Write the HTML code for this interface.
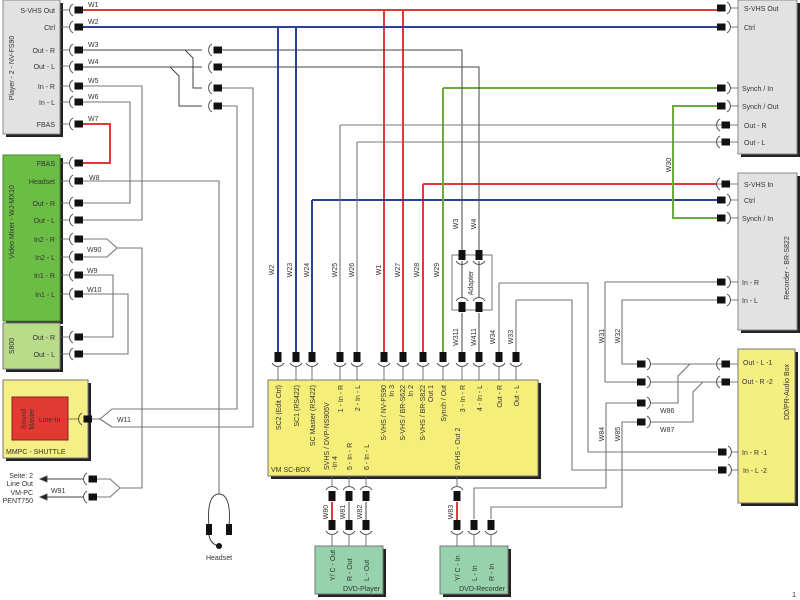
<!DOCTYPE html>
<html><head><meta charset="utf-8"><style>
html,body{margin:0;padding:0;background:#fff;}
svg{display:block;}
text{font-family:"Liberation Sans",sans-serif;font-size:7px;fill:#333;}
</style></head><body>
<svg width="800" height="600" viewBox="0 0 800 600" xmlns="http://www.w3.org/2000/svg">
<defs>
<g id="L"><path d="M3,-6 A7,7 0 0,0 3,6" fill="none" stroke="#444" stroke-width="0.9"/><rect x="4.5" y="-3.5" width="8.5" height="7" fill="#111"/></g>
<g id="R"><path d="M-3,-6 A7,7 0 0,1 -3,6" fill="none" stroke="#444" stroke-width="0.9"/><rect x="-13" y="-3.5" width="8.5" height="7" fill="#111"/></g>
<g id="D"><path d="M-6,0 A7,7 0 0,0 6,0" fill="none" stroke="#444" stroke-width="0.9"/><rect x="-3.5" y="-11" width="7" height="10" fill="#111"/></g>
<g id="U"><path d="M-6,0 A7,7 0 0,1 6,0" fill="none" stroke="#444" stroke-width="0.9"/><rect x="-3.5" y="1" width="7" height="10" fill="#111"/></g>
</defs>

<!-- ===== Boxes ===== -->
<rect x="6" y="3" width="57" height="134" fill="#222"/>
<rect x="3" y="0" width="57" height="134" fill="#e2e2e2" stroke="#888"/>
<rect x="6" y="158" width="57" height="166" fill="#222"/>
<rect x="3" y="155" width="57" height="166" fill="#6cbd45" stroke="#4a8a30"/>
<rect x="6" y="326" width="57" height="46" fill="#222"/>
<rect x="3" y="323" width="57" height="46" fill="#b9dc8b" stroke="#777"/>
<rect x="6" y="383" width="85" height="78" fill="#222"/>
<rect x="3" y="380" width="85" height="78" fill="#f5ef85" stroke="#777"/>
<rect x="12" y="397" width="56" height="43" fill="#e23a32" stroke="#8a2020"/>
<rect x="271" y="383" width="270" height="96" fill="#222"/>
<rect x="268" y="380" width="270" height="96" fill="#f5ef7a" stroke="#777"/>
<rect x="741" y="3" width="59" height="154" fill="#222"/>
<rect x="738" y="0" width="59" height="154" fill="#e2e2e2" stroke="#888"/>
<rect x="741" y="176" width="59" height="157" fill="#222"/>
<rect x="738" y="173" width="59" height="157" fill="#e2e2e2" stroke="#888"/>
<rect x="741" y="352" width="57" height="154" fill="#222"/>
<rect x="738" y="349" width="57" height="154" fill="#f5ef80" stroke="#777"/>
<rect x="318" y="549" width="68" height="48" fill="#222"/>
<rect x="315" y="546" width="68" height="48" fill="#96d2ab" stroke="#777"/>
<rect x="443" y="549" width="68" height="48" fill="#222"/>
<rect x="440" y="546" width="68" height="48" fill="#96d2ab" stroke="#777"/>
<rect x="452" y="255" width="40" height="55" fill="none" stroke="#777" stroke-width="1"/>

<!-- box titles -->
<text transform="translate(14,68) rotate(-90)" text-anchor="middle">Player - 2  -  NV-FS90</text>
<text transform="translate(14,222) rotate(-90)" text-anchor="middle">Video Mixer  -  WJ-MX10</text>
<text transform="translate(14,346) rotate(-90)" text-anchor="middle">S800</text>
<text transform="translate(26,419) rotate(-90)" text-anchor="middle">Sound</text>
<text transform="translate(34,419) rotate(-90)" text-anchor="middle">blaster</text>
<text x="39" y="422">Line-In</text>
<text x="6" y="454">MMPC - SHUTTLE</text>
<text x="271" y="472">VM SC-BOX</text>
<text transform="translate(789,268) rotate(-90)" text-anchor="middle">Recorder  -  BR-S822</text>
<text transform="translate(789,392) rotate(-90)" text-anchor="middle">DD/PR-Audio Box</text>
<text x="380" y="591" text-anchor="end">DVD-Player</text>
<text x="505" y="591" text-anchor="end">DVD-Recorder</text>
<text transform="translate(473,283) rotate(-90)" text-anchor="middle">Adapter</text>
<text x="796" y="597" text-anchor="end">1</text>

<!-- left labels -->
<g text-anchor="end">
<text x="55" y="13">S-VHS Out</text><text x="55" y="30">Ctrl</text>
<text x="55" y="53">Out - R</text><text x="55" y="69">Out - L</text>
<text x="55" y="89">In - R</text><text x="55" y="105">In - L</text>
<text x="55" y="127">FBAS</text>
<text x="55" y="166">FBAS</text><text x="55" y="184">Headset</text>
<text x="55" y="206">Out - R</text><text x="55" y="223">Out - L</text>
<text x="55" y="242">In2 - R</text><text x="55" y="260">In2 - L</text>
<text x="55" y="278">In1 - R</text><text x="55" y="297">In1 - L</text>
<text x="55" y="340">Out - R</text><text x="55" y="357">Out - L</text>
<text x="33" y="478">Seite: 2</text><text x="33" y="486">Line Out</text>
<text x="33" y="495">VM-PC</text><text x="33" y="503">PENT750</text>
</g>
<!-- right labels -->
<g>
<text x="744" y="11">S-VHS Out</text><text x="744" y="30">Ctrl</text>
<text x="742" y="91">Synch / In</text><text x="742" y="109">Synch / Out</text>
<text x="744" y="128">Out - R</text><text x="744" y="145">Out - L</text>
<text x="744" y="187">S-VHS In</text><text x="744" y="203">Ctrl</text>
<text x="742" y="221">Synch / In</text>
<text x="742" y="285">In - R</text><text x="742" y="303">In - L</text>
<text x="743" y="365">Out - L -1</text><text x="742" y="384">Out - R -2</text>
<text x="742" y="455">In - R -1</text><text x="743" y="473">In - L -2</text>
</g>

<!-- stubs -->
<g stroke="#555" stroke-width="0.8">
<path d="M60,10H70M60,27H70M60,50H70M60,66H70M60,86H70M60,102H70M60,124H70M60,163H70M60,181H70M60,203H70M60,220H70M60,239H70M60,257H70M60,275H70M60,294H70M60,337H70M60,354H70M68,419H79"/>
<path d="M730,8H738M730,27H738M730,88H738M730,106H738M712,125H738M712,142H738M712,184H738M730,200H738M730,218H738M730,282H738M730,300H738M712,364H738M712,382H738M731,452H738M731,470H738"/>
<path d="M278,366V380M296,366V380M312,366V380M340,366V380M357,366V380M384,366V380M403,366V380M423,366V380M443,366V380M462,366V380M479,366V380M499,366V380M516,366V380"/>
<path d="M332,476V486M349,476V486M366,476V486M457,476V486M332,535V546M349,535V546M366,535V546M457,535V546M474,535V546M491,535V546"/>
</g>

<!-- colored wires -->
<g fill="none" stroke-width="2">
<path d="M83,10H717M384,10V352M403,10V352M423,184H717M423,184V352M83,124H110V163H83" stroke="#e0393a"/>
<path d="M83,27H717M278,27V352M296,27V352M312,200H717M312,200V352" stroke="#2b4199"/>
<path d="M443,88H717M443,88V352M717,106H673V218H717" stroke="#6aad3c"/>
<path d="M332,502V520M457,502V520" stroke="#e0393a"/>
</g>
<!-- black/gray wires -->
<g fill="none" stroke="#444" stroke-width="1">
<path d="M83,50H202M222,50H462V250M83,67H202M222,67H479V250"/>
<path d="M185,50L193,58V88H202M170,67L179,76V106H202"/>
<path d="M462,313V352M479,313V352M462,261V298M479,261V298"/>
<path d="M349,502V520M366,502V520"/>
</g>
<g fill="none" stroke="#777" stroke-width="1.1">
<path d="M222,88H253V427H112M222,106H237V409H112M91,419H100L112,409M100,419L112,427"/>
<path d="M83,86H142V220H83M83,102H130V203H83"/>
<path d="M83,181H219V494"/>
<path d="M83,239H107L117,248L107,257H83M117,248H142V488H120L110,479H97M120,488L110,497H97"/>
<path d="M83,275H113V337H83M83,294H128V354H83"/>
<path d="M340,125H712M340,125V352M357,142H712M357,142V352"/>
<path d="M499,283H588V452H717M499,283V352M516,300H572V470H717M516,300V352"/>
<path d="M717,282H605V382H637M717,300H622V364H637"/>
<path d="M650,364H712M650,382H712M690,364L678,376V403H650M703,382L693,392V422H650"/>
<path d="M637,403H606V488H474V519M637,422H622V507H491V519"/>
</g>
<!-- arrows W91 -->
<g stroke="#444" stroke-width="0.9" fill="#222">
<path d="M44,479H84M44,497H84" fill="none"/>
<path d="M40,479L47,476V482Z"/><path d="M40,497L47,494V500Z"/>
</g>
<!-- headset -->
<g fill="none" stroke="#444" stroke-width="1">
<path d="M209,526C207,505 211,494 219,494C227,494 231,505 229,526"/>
<path d="M209,535C210,542 214,545 219,546"/>
</g>
<rect x="206" y="524" width="6" height="11" fill="#111"/>
<rect x="226" y="524" width="6" height="11" fill="#111"/>
<circle cx="219" cy="546" r="3" fill="#111"/>
<text x="219" y="560" text-anchor="middle">Headset</text>

<!-- connectors -->
<g>
<use href="#L" x="70" y="10"/><use href="#L" x="70" y="27"/><use href="#L" x="70" y="50"/><use href="#L" x="70" y="67"/>
<use href="#L" x="70" y="86"/><use href="#L" x="70" y="102"/><use href="#L" x="70" y="124"/>
<use href="#L" x="70" y="163"/><use href="#L" x="70" y="181"/><use href="#L" x="70" y="203"/><use href="#L" x="70" y="220"/>
<use href="#L" x="70" y="239"/><use href="#L" x="70" y="257"/><use href="#L" x="70" y="275"/><use href="#L" x="70" y="294"/>
<use href="#L" x="70" y="337"/><use href="#L" x="70" y="354"/>
<use href="#L" x="209" y="50"/><use href="#L" x="209" y="67"/><use href="#L" x="209" y="88"/><use href="#L" x="209" y="106"/>
<use href="#L" x="79" y="419"/><use href="#L" x="84" y="479"/><use href="#L" x="84" y="497"/>
<use href="#R" x="730" y="8"/><use href="#R" x="730" y="27"/><use href="#R" x="730" y="88"/><use href="#R" x="730" y="106"/>
<use href="#L" x="717" y="125"/><use href="#L" x="717" y="142"/><use href="#L" x="717" y="184"/>
<use href="#R" x="730" y="200"/><use href="#R" x="730" y="218"/><use href="#R" x="730" y="282"/><use href="#R" x="730" y="300"/>
<use href="#L" x="717" y="364"/><use href="#L" x="717" y="382"/>
<use href="#R" x="731" y="452"/><use href="#R" x="731" y="470"/>
<use href="#R" x="650" y="364"/><use href="#R" x="650" y="382"/><use href="#R" x="650" y="403"/><use href="#R" x="650" y="422"/>
<use href="#D" x="278" y="363"/><use href="#D" x="296" y="363"/><use href="#D" x="312" y="363"/><use href="#D" x="340" y="363"/>
<use href="#D" x="357" y="363"/><use href="#D" x="384" y="363"/><use href="#D" x="403" y="363"/><use href="#D" x="423" y="363"/>
<use href="#D" x="443" y="363"/><use href="#D" x="462" y="363"/><use href="#D" x="479" y="363"/><use href="#D" x="499" y="363"/><use href="#D" x="516" y="363"/>
<use href="#D" x="462" y="261"/><use href="#D" x="479" y="261"/><use href="#U" x="462" y="301"/><use href="#U" x="479" y="301"/>
<use href="#U" x="332" y="490"/><use href="#U" x="349" y="490"/><use href="#U" x="366" y="490"/><use href="#U" x="457" y="490"/>
<use href="#D" x="332" y="531"/><use href="#D" x="349" y="531"/><use href="#D" x="366" y="531"/><use href="#D" x="457" y="531"/>
<use href="#D" x="474" y="531"/><use href="#D" x="491" y="531"/>
</g>

<!-- wire labels horizontal -->
<g>
<text x="88" y="7">W1</text><text x="88" y="24">W2</text><text x="88" y="47">W3</text><text x="88" y="64">W4</text>
<text x="88" y="83">W5</text><text x="88" y="99">W6</text><text x="88" y="121">W7</text><text x="89" y="180">W8</text>
<text x="87" y="252">W90</text><text x="87" y="273">W9</text><text x="87" y="292">W10</text>
<text x="117" y="422">W11</text><text x="51" y="493">W91</text>
<text x="660" y="413">W86</text><text x="660" y="432">W87</text>
</g>
<!-- vertical wire labels -->
<g text-anchor="middle">
<text transform="translate(274,270) rotate(-90)">W2</text>
<text transform="translate(292,270) rotate(-90)">W23</text>
<text transform="translate(309,270) rotate(-90)">W24</text>
<text transform="translate(337,270) rotate(-90)">W25</text>
<text transform="translate(354,270) rotate(-90)">W26</text>
<text transform="translate(381,270) rotate(-90)">W1</text>
<text transform="translate(400,270) rotate(-90)">W27</text>
<text transform="translate(419,270) rotate(-90)">W28</text>
<text transform="translate(439,270) rotate(-90)">W29</text>
<text transform="translate(458,224) rotate(-90)">W3</text>
<text transform="translate(476,224) rotate(-90)">W4</text>
<text transform="translate(458,337) rotate(-90)">W311</text>
<text transform="translate(476,337) rotate(-90)">W411</text>
<text transform="translate(495,337) rotate(-90)">W34</text>
<text transform="translate(513,337) rotate(-90)">W33</text>
<text transform="translate(671,165) rotate(-90)">W30</text>
<text transform="translate(604,336) rotate(-90)">W31</text>
<text transform="translate(620,336) rotate(-90)">W32</text>
<text transform="translate(604,434) rotate(-90)">W84</text>
<text transform="translate(620,434) rotate(-90)">W85</text>
<text transform="translate(328,512) rotate(-90)">W80</text>
<text transform="translate(345,512) rotate(-90)">W81</text>
<text transform="translate(362,512) rotate(-90)">W82</text>
<text transform="translate(453,512) rotate(-90)">W83</text>
</g>
<!-- SC-BOX labels -->
<g text-anchor="end">
<text transform="translate(281,385) rotate(-90)">SC2 (Edit Ctrl)</text>
<text transform="translate(299,385) rotate(-90)">SC1 (RS422)</text>
<text transform="translate(315,385) rotate(-90)">SC Master (RS422)</text>
<text transform="translate(343,385) rotate(-90)">1 - In - R</text>
<text transform="translate(360,385) rotate(-90)">2 - In - L</text>
<text transform="translate(386,385) rotate(-90)">S-VHS / NV-FS90</text>
<text transform="translate(394,385) rotate(-90)">In 3</text>
<text transform="translate(405,385) rotate(-90)">S-VHS / BR-S622</text>
<text transform="translate(413,385) rotate(-90)">In 2</text>
<text transform="translate(425,385) rotate(-90)">S-VHS / BR-S822</text>
<text transform="translate(433,385) rotate(-90)">Out 1</text>
<text transform="translate(446,385) rotate(-90)">Synch / Out</text>
<text transform="translate(465,385) rotate(-90)">3 - In - R</text>
<text transform="translate(482,385) rotate(-90)">4 - In - L</text>
<text transform="translate(502,385) rotate(-90)">Out - R</text>
<text transform="translate(519,385) rotate(-90)">Out - L</text>
</g>
<g text-anchor="start">
<text transform="translate(329,470) rotate(-90)">SVHS / DVP-NS905V</text>
<text transform="translate(337,470) rotate(-90)">-In 4</text>
<text transform="translate(352,470) rotate(-90)">5 - In - R</text>
<text transform="translate(369,470) rotate(-90)">6 - In - L</text>
<text transform="translate(460,470) rotate(-90)">SVHS - Out 2</text>
<text transform="translate(335,581) rotate(-90)">Y/ C - Out</text>
<text transform="translate(352,581) rotate(-90)">R - Out</text>
<text transform="translate(369,581) rotate(-90)">L - Out</text>
<text transform="translate(460,581) rotate(-90)">Y/ C - In</text>
<text transform="translate(477,581) rotate(-90)">L - In</text>
<text transform="translate(494,581) rotate(-90)">R - In</text>
</g>
</svg>
</body></html>
